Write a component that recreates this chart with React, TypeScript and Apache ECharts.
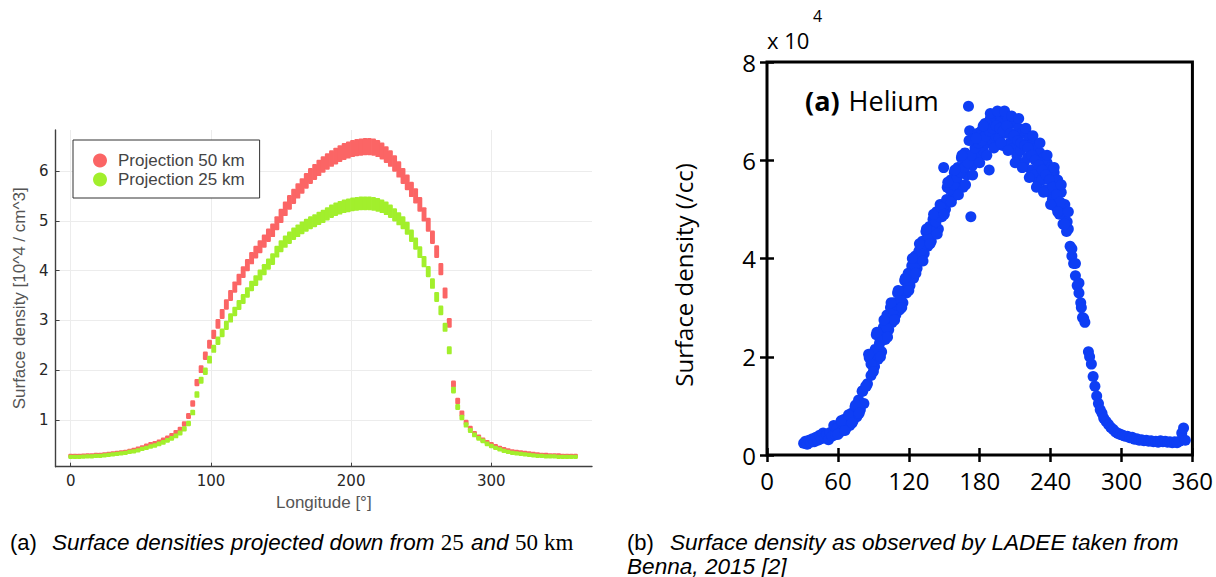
import React, { useEffect, useRef } from 'react';
import * as echarts from 'echarts';

// ---------- Left panel: projected surface densities (10^4 / cm^3) ----------
const LON = [
  0, 3, 6, 9, 12, 15, 18, 21, 24, 27,
  30, 33, 36, 39, 42, 45, 48, 51, 54, 57,
  60, 63, 66, 69, 72, 75, 78, 81, 84, 87,
  90, 93, 96, 99, 102, 105, 108, 111, 114, 117,
  120, 123, 126, 129, 132, 135, 138, 141, 144, 147,
  150, 153, 156, 159, 162, 165, 168, 171, 174, 177,
  180, 183, 186, 189, 192, 195, 198, 201, 204, 207,
  210, 213, 216, 219, 222, 225, 228, 231, 234, 237,
  240, 243, 246, 249, 252, 255, 258, 261, 264, 267,
  270, 273, 276, 279, 282, 285, 288, 291, 294, 297,
  300, 303, 306, 309, 312, 315, 318, 321, 324, 327,
  330, 333, 336, 339, 342, 345, 348, 351, 354, 357,
  360,
];

const RED_MID = [
  0.28, 0.28, 0.28, 0.285, 0.29, 0.29, 0.3, 0.3, 0.31, 0.32,
  0.33, 0.34, 0.35, 0.36, 0.38, 0.4, 0.42, 0.45, 0.48, 0.51,
  0.53, 0.56, 0.6, 0.64, 0.69, 0.75, 0.81, 0.92, 1.08, 1.33,
  1.75, 2.02, 2.29, 2.52, 2.72, 2.93, 3.13, 3.32, 3.5, 3.67,
  3.82, 3.97, 4.11, 4.25, 4.37, 4.48, 4.59, 4.71, 4.81, 4.95,
  5.1, 5.24, 5.37, 5.49, 5.6, 5.7, 5.8, 5.9, 5.98, 6.06,
  6.13, 6.19, 6.25, 6.3, 6.35, 6.39, 6.42, 6.45, 6.47, 6.48,
  6.49, 6.49, 6.48, 6.45, 6.4, 6.33, 6.25, 6.15, 6.03, 5.9,
  5.77, 5.63, 5.5, 5.33, 5.13, 4.92, 4.67, 4.38, 4.03, 3.55,
  2.95, 1.72, 1.38, 1.13, 0.95, 0.83, 0.73, 0.66, 0.6, 0.55,
  0.51, 0.47, 0.44, 0.41, 0.39, 0.37, 0.36, 0.35, 0.34, 0.33,
  0.32, 0.31, 0.3, 0.3, 0.29, 0.29, 0.29, 0.28, 0.28, 0.28,
  0.28,
];

const RED_HALF = [
  0.006, 0.006, 0.006, 0.006, 0.006, 0.006, 0.006, 0.007, 0.007, 0.007,
  0.007, 0.007, 0.008, 0.008, 0.008, 0.008, 0.009, 0.009, 0.01, 0.01,
  0.011, 0.012, 0.012, 0.013, 0.014, 0.015, 0.017, 0.019, 0.022, 0.028,
  0.036, 0.042, 0.048, 0.053, 0.057, 0.061, 0.065, 0.069, 0.073, 0.077,
  0.08, 0.083, 0.086, 0.089, 0.091, 0.094, 0.096, 0.099, 0.101, 0.104,
  0.107, 0.11, 0.113, 0.115, 0.118, 0.12, 0.122, 0.124, 0.126, 0.127,
  0.129, 0.13, 0.131, 0.132, 0.133, 0.134, 0.135, 0.135, 0.136, 0.136,
  0.136, 0.136, 0.136, 0.135, 0.134, 0.133, 0.131, 0.129, 0.127, 0.124,
  0.121, 0.118, 0.115, 0.112, 0.108, 0.103, 0.098, 0.092, 0.085, 0.074,
  0.062, 0.036, 0.029, 0.024, 0.02, 0.017, 0.015, 0.014, 0.013, 0.012,
  0.011, 0.01, 0.009, 0.009, 0.008, 0.008, 0.008, 0.007, 0.007, 0.007,
  0.007, 0.007, 0.006, 0.006, 0.006, 0.006, 0.006, 0.006, 0.006, 0.006,
  0.006,
];

const GREEN_MID = [
  0.26, 0.26, 0.26, 0.265, 0.27, 0.27, 0.28, 0.28, 0.29, 0.3,
  0.31, 0.32, 0.33, 0.34, 0.36, 0.37, 0.39, 0.42, 0.44, 0.47,
  0.49, 0.52, 0.55, 0.59, 0.63, 0.68, 0.74, 0.82, 0.93, 1.15,
  1.51, 1.8, 1.98, 2.21, 2.43, 2.59, 2.75, 2.9, 3.05, 3.18,
  3.31, 3.43, 3.56, 3.69, 3.8, 3.91, 4.02, 4.13, 4.23, 4.38,
  4.49, 4.58, 4.66, 4.74, 4.8, 4.86, 4.91, 4.96, 5.0, 5.05,
  5.09, 5.14, 5.19, 5.23, 5.26, 5.29, 5.31, 5.33, 5.34, 5.35,
  5.35, 5.35, 5.34, 5.32, 5.29, 5.25, 5.19, 5.12, 5.04, 4.96,
  4.85, 4.7, 4.54, 4.37, 4.18, 3.98, 3.74, 3.47, 3.2, 2.86,
  2.4, 1.6, 1.26, 1.05, 0.9, 0.79, 0.7, 0.63, 0.58, 0.52,
  0.48, 0.44, 0.41, 0.38, 0.36, 0.34, 0.33, 0.32, 0.31, 0.3,
  0.29, 0.28, 0.28, 0.27, 0.27, 0.27, 0.26, 0.26, 0.26, 0.26,
  0.26,
];

const GREEN_HALF = [
  0.005, 0.005, 0.005, 0.005, 0.005, 0.005, 0.005, 0.005, 0.006, 0.006,
  0.006, 0.006, 0.006, 0.006, 0.007, 0.007, 0.007, 0.008, 0.008, 0.009,
  0.009, 0.01, 0.01, 0.011, 0.012, 0.013, 0.014, 0.016, 0.018, 0.021,
  0.029, 0.034, 0.038, 0.042, 0.046, 0.049, 0.052, 0.055, 0.058, 0.06,
  0.063, 0.065, 0.068, 0.07, 0.072, 0.074, 0.076, 0.078, 0.08, 0.083,
  0.085, 0.087, 0.089, 0.09, 0.091, 0.092, 0.093, 0.094, 0.095, 0.096,
  0.097, 0.098, 0.099, 0.099, 0.1, 0.1, 0.101, 0.101, 0.101, 0.102,
  0.102, 0.102, 0.101, 0.101, 0.1, 0.1, 0.099, 0.097, 0.096, 0.094,
  0.092, 0.089, 0.086, 0.083, 0.079, 0.076, 0.071, 0.066, 0.061, 0.054,
  0.046, 0.03, 0.024, 0.02, 0.017, 0.015, 0.013, 0.012, 0.011, 0.01,
  0.009, 0.008, 0.008, 0.007, 0.007, 0.006, 0.006, 0.006, 0.006, 0.006,
  0.006, 0.005, 0.005, 0.005, 0.005, 0.005, 0.005, 0.005, 0.005, 0.005,
  0.005,
];

const LEFT_SERIES = ['Projection 50 km', 'Projection 25 km'];

// ---------- Right panel: LADEE helium observations (x 10^4 /cc) ----------
const BLUE_OUTER: [number, number][] = [
  [31, 0.24], [32.5, 0.28], [34, 0.22], [35.5, 0.3], [37, 0.26], [38.5, 0.33],
  [40, 0.27], [41.5, 0.36], [43, 0.3], [44.5, 0.4], [46, 0.33], [47.5, 0.45],
  [49, 0.35], [50.5, 0.42], [52, 0.31], [53.5, 0.46], [55, 0.38], [56.5, 0.6],
  [58, 0.41], [59.5, 0.55], [61, 0.45], [62.5, 0.68], [64, 0.5], [65.5, 0.73],
  [67, 0.55], [68.5, 0.66], [70, 0.6], [71.5, 0.85], [73, 0.7], [74.5, 0.98],
  [76, 0.78], [77.5, 1.12], [79, 0.92], [80.5, 1.3], [82, 1.05], [83.5, 1.4],
  [85, 1.45], [86.5, 1.98], [88, 1.62], [89.5, 2.02], [91, 1.8], [92.5, 2.45],
  [94, 1.95], [95.5, 2.3], [97, 2.1], [98.5, 2.6], [100, 2.35], [101.5, 2.85],
  [103, 2.55], [104.5, 3.0], [106, 2.7], [107.5, 3.1], [109, 2.85], [110.5, 3.3],
  [112, 2.95], [113.5, 3.25], [115, 3.1], [116.5, 3.55], [118, 3.3], [119.5, 3.7],
  [121, 3.45], [122.5, 3.85], [124, 3.6], [125.5, 4.05], [127, 3.8], [128.5, 4.15],
  [130, 3.95], [131.5, 4.35], [133, 4.1], [134.5, 4.55], [136, 4.25], [137.5, 4.65],
  [139, 4.35], [140.5, 4.8], [142, 4.5], [143.5, 4.95], [145, 4.6], [146.5, 5.1],
  [148, 4.85], [149.5, 5.85], [151, 5.0], [152.5, 5.45], [154, 5.15], [155.5, 5.6],
  [157, 5.25], [158.5, 5.75], [160, 5.4], [161.5, 5.85], [163, 5.5], [164.5, 6.05],
  [166, 5.45], [167.5, 6.15], [169, 5.7], [170.5, 7.1], [171.5, 6.6], [172.5, 4.85],
  [174, 5.9], [175.5, 6.45], [177, 6.05], [178.5, 6.55], [180, 6.1], [181.5, 6.6],
  [183, 6.2], [184.5, 6.75], [186, 6.35], [188, 5.8], [189, 6.85], [190.5, 6.4],
  [192, 6.9], [193.5, 6.5], [195, 6.95], [196.5, 6.45], [198, 6.8], [199.5, 6.3],
  [201, 6.95], [202.5, 6.55], [204, 6.85], [205.5, 6.35], [207, 6.75], [208.5, 6.25],
  [210, 6.8], [211.5, 6.1], [213, 6.65], [214.5, 6.2], [216, 6.55], [217.5, 5.95],
  [219, 6.6], [220.5, 6.05], [222, 6.45], [223.5, 5.8], [225, 6.35], [226.5, 5.7],
  [228, 6.25], [229.5, 5.55], [231, 6.15], [232.5, 5.6], [234, 6.05], [235.5, 5.4],
  [237, 5.95], [238.5, 5.35], [240, 5.85], [241.5, 5.2], [243, 5.75], [244.5, 5.05],
  [246, 5.6], [247.5, 4.9], [249, 5.35], [250.5, 4.7], [252, 5.1], [253.5, 4.55],
  [255, 4.6], [256.5, 4.25], [258, 4.05], [259.5, 3.9], [261, 3.65], [262.5, 3.45],
  [264, 3.3], [265.5, 3.1], [267, 2.8], [268, 2.78], [269, 2.7], [272, 2.1],
  [273, 2.0], [274.5, 1.85], [276, 1.6], [277.5, 1.4], [279, 1.2], [280.5, 1.05],
  [282, 0.92], [283.5, 0.85], [285, 0.75], [287, 0.68], [289, 0.62], [291, 0.56],
  [293, 0.52], [295, 0.47], [297, 0.44], [299, 0.42], [301, 0.4], [303, 0.38],
  [305, 0.38], [307, 0.35], [309, 0.36], [311, 0.32], [313, 0.33], [315, 0.3],
  [317, 0.31], [319, 0.29], [321, 0.3], [323, 0.28], [325, 0.29], [327, 0.27],
  [329, 0.28], [331, 0.26], [333, 0.29], [335, 0.27], [337, 0.28], [339, 0.26],
  [341, 0.27], [343, 0.25], [345, 0.27], [347, 0.25], [349, 0.28], [351, 0.45],
  [352.5, 0.55], [354, 0.3],
];

const BLUE_INNER: [number, number][] = [
  [88, 1.85], [91.5, 2.15], [95, 2.25], [98, 2.4], [101, 2.6], [104, 2.78],
  [107, 2.95], [110, 3.05], [113, 3.15], [116, 3.35], [119, 3.5], [122, 3.7],
  [125, 3.85], [128, 4.0], [131, 4.15], [134, 4.3], [137, 4.45], [140, 4.6],
  [143, 4.75], [146, 4.85], [149, 5.05], [152, 5.2], [155, 5.4], [158, 5.5],
  [161, 5.65], [164, 5.75], [167, 5.85], [170, 5.95], [173, 6.1], [176, 6.25],
  [179, 6.35], [182, 6.4], [185, 6.5], [188, 6.6], [191, 6.65], [194, 6.7],
  [197, 6.65], [200, 6.6], [203, 6.7], [206, 6.55], [209, 6.5], [212, 6.4],
  [215, 6.35], [218, 6.3], [221, 6.25], [224, 6.1], [227, 6.0], [230, 5.9],
  [233, 5.8], [236, 5.7], [239, 5.6], [242, 5.45], [245, 5.3], [248, 5.15],
  [251, 4.9], [254, 4.75],
];

const BLUE_EDGE: [number, number][] = [
  [60, 0.42], [63, 0.7], [66, 0.5], [69, 0.82], [72, 0.65], [75, 1.02],
  [78, 0.85], [81, 1.3], [84, 1.4], [86, 2.05], [90, 1.7], [93, 2.5],
  [96, 2.0], [99, 2.75], [102, 2.4], [105, 3.1], [108, 2.75], [111, 3.35],
  [114, 3.0], [117, 3.6], [120, 3.35], [123, 4.0], [126, 3.7], [129, 4.3],
  [132, 3.95], [135, 4.6], [138, 4.3], [141, 4.9], [144, 4.5], [147, 5.05],
  [150, 4.9], [153, 5.55], [156, 5.15], [159, 5.8], [162, 5.3], [165, 6.1],
  [168, 5.5], [171, 6.4], [174, 5.7], [177, 6.45], [180, 5.95], [183, 6.7],
  [186, 6.1], [189, 6.95], [192, 6.25], [195, 7.0], [198, 6.35], [201, 7.0],
  [204, 6.2], [207, 6.9], [210, 5.95], [213, 6.85], [216, 5.85], [219, 6.65],
  [222, 5.65], [225, 6.5], [228, 5.45], [231, 6.35], [234, 5.35], [237, 6.1],
  [240, 5.1], [243, 5.85], [246, 4.95], [249, 5.5], [252, 4.7], [255, 4.95],
  [258, 4.2], [261, 3.9], [264, 3.5], [266, 3.0],
];

const RED = '#fb6565';
const GREEN = '#a2ef2c';
const BLUE = '#0e3ef4';

function bandRenderer(color: string) {
  return (_params: any, api: any) => {
    const lon = api.value(0);
    const lo = api.value(1);
    const hi = api.value(2);
    const pHi = api.coord([lon, hi]);
    const pLo = api.coord([lon, lo]);
    const w = 4.9;
    const pad = 1.8;
    return {
      type: 'rect',
      shape: {
        x: pHi[0] - w / 2,
        y: pHi[1] - pad,
        width: w,
        height: pLo[1] - pHi[1] + 2 * pad,
        r: 1.2,
      },
      style: { fill: color },
    };
  };
}

function bandData(mid: number[], half: number[]) {
  return LON.map((l, i) => [l, mid[i] - half[i], mid[i] + half[i]]);
}

export default function App() {
  const ref = useRef<HTMLDivElement>(null);

  useEffect(() => {
    if (!ref.current) return;
    const chart = echarts.init(ref.current, null, { renderer: 'svg' });

    const leftTickFont = { fontFamily: 'DejaVu Sans', fontSize: 15, color: '#262626' };
    const guideFont = { fontFamily: 'Liberation Sans', fontSize: 17, color: '#555555' };
    const rightFont = { fontFamily: 'Open Sans', fontSize: 24, color: '#000000' };

    const option: any = {
      animation: false,
      backgroundColor: '#ffffff',
      grid: [
        { left: 55.6, top: 130, width: 536.4, height: 336.7, show: false },
        {
          left: 767, top: 62, width: 427, height: 393,
          show: true, borderColor: '#000000', borderWidth: 3, backgroundColor: 'transparent',
        },
      ],
      legend: {
        data: [
          { name: LEFT_SERIES[0], icon: 'circle' },
          { name: LEFT_SERIES[1], icon: 'circle' },
        ],
        orient: 'vertical',
        left: 73,
        top: 140,
        padding: [12, 15, 10, 20],
        itemGap: 2,
        itemWidth: 26,
        itemHeight: 14,
        borderColor: '#333333',
        borderWidth: 1,
        backgroundColor: '#ffffff',
        selectedMode: false,
        textStyle: { fontFamily: 'Liberation Sans', fontSize: 17, color: '#444444', lineHeight: 17 },
      },
      xAxis: [
        {
          gridIndex: 0,
          type: 'value',
          min: -10.8,
          max: 371.8,
          axisLine: { show: true, onZero: false, lineStyle: { color: '#404040', width: 1.4 } },
          axisTick: { show: true, inside: true, length: 4, lineStyle: { color: '#404040' } },
          splitLine: { show: true, showMinLine: false, showMaxLine: false, lineStyle: { color: '#ececec', width: 1 } },
          axisLabel: {
            ...leftTickFont,
            margin: 7,
            showMinLabel: false,
            showMaxLabel: false,
            formatter: (v: number) => (Number.isInteger(v) && v % 100 === 0 ? String(v) : ''),
          },
          name: 'Longitude [°]',
          nameLocation: 'middle',
          nameGap: 27,
          nameTextStyle: guideFont,
        },
        {
          gridIndex: 1,
          type: 'value',
          min: 0,
          max: 360,
          interval: 60,
          axisLine: { show: false },
          axisTick: { show: true, inside: true, length: 7, lineStyle: { color: '#000', width: 2.5 } },
          splitLine: { show: false },
          axisLabel: { ...rightFont, margin: 13 },
        },
        {
          gridIndex: 1,
          type: 'value',
          position: 'top',
          min: 0,
          max: 360,
          interval: 60,
          axisLine: { show: false },
          axisTick: { show: true, inside: true, length: 7, lineStyle: { color: '#000', width: 2.5 } },
          splitLine: { show: false },
          axisLabel: { show: false },
        },
      ],
      yAxis: [
        {
          gridIndex: 0,
          type: 'value',
          min: 0.062,
          max: 6.823,
          axisLine: { show: true, onZero: false, lineStyle: { color: '#404040', width: 1.4 } },
          axisTick: { show: true, inside: true, length: 4, lineStyle: { color: '#404040' } },
          splitLine: { show: true, showMinLine: false, showMaxLine: false, lineStyle: { color: '#ececec', width: 1 } },
          axisLabel: {
            ...leftTickFont,
            margin: 7,
            showMinLabel: false,
            showMaxLabel: false,
            formatter: (v: number) => (Number.isInteger(v) ? String(v) : ''),
          },
          name: 'Surface density [10^4 / cm^3]',
          nameLocation: 'middle',
          nameGap: 28,
          nameTextStyle: guideFont,
        },
        {
          gridIndex: 1,
          type: 'value',
          min: 0,
          max: 8,
          interval: 2,
          axisLine: { show: false },
          axisTick: { show: true, inside: true, length: 7, lineStyle: { color: '#000', width: 2.5 } },
          splitLine: { show: false },
          axisLabel: { ...rightFont, margin: 11 },
        },
        {
          gridIndex: 1,
          type: 'value',
          position: 'right',
          min: 0,
          max: 8,
          interval: 2,
          axisLine: { show: false },
          axisTick: { show: true, inside: true, length: 7, lineStyle: { color: '#000', width: 2.5 } },
          splitLine: { show: false },
          axisLabel: { show: false },
        },
      ],
      series: [
        {
          name: LEFT_SERIES[0],
          type: 'custom',
          xAxisIndex: 0,
          yAxisIndex: 0,
          itemStyle: { color: RED },
          renderItem: bandRenderer(RED),
          encode: { x: 0, y: [1, 2] },
          data: bandData(RED_MID, RED_HALF),
        },
        {
          name: LEFT_SERIES[1],
          type: 'custom',
          xAxisIndex: 0,
          yAxisIndex: 0,
          itemStyle: { color: GREEN },
          renderItem: bandRenderer(GREEN),
          encode: { x: 0, y: [1, 2] },
          data: bandData(GREEN_MID, GREEN_HALF),
        },
        {
          name: 'LADEE helium',
          type: 'scatter',
          xAxisIndex: 1,
          yAxisIndex: 1,
          symbol: 'circle',
          symbolSize: 11,
          itemStyle: { color: BLUE, opacity: 1 },
          data: [...BLUE_OUTER, ...BLUE_INNER, ...BLUE_EDGE],
        },
      ],
      graphic: [
        {
          type: 'text',
          x: 767,
          y: 40,
          style: { text: 'x 10', fontFamily: 'Open Sans', fontSize: 22, fill: '#000', verticalAlign: 'middle', align: 'left' },
        },
        {
          type: 'text',
          x: 813,
          y: 16,
          style: { text: '4', fontFamily: 'Open Sans', fontSize: 16, fill: '#000', verticalAlign: 'middle', align: 'left' },
        },
        {
          type: 'text',
          x: 683,
          y: 275,
          rotation: Math.PI / 2,
          style: {
            text: 'Surface density (/cc)',
            fontFamily: 'Open Sans',
            fontSize: 24,
            fill: '#000',
            verticalAlign: 'middle',
            align: 'center',
          },
        },
        {
          type: 'text',
          x: 805,
          y: 100,
          style: {
            text: '{b|(a)}{r|Helium}',
            verticalAlign: 'middle',
            align: 'left',
            rich: {
              b: { fontFamily: 'Open Sans', fontSize: 27, fontWeight: 'bold', fill: '#000', padding: [0, 9, 0, 0] },
              r: { fontFamily: 'Open Sans', fontSize: 27, fill: '#000' },
            },
          },
        },
        {
          type: 'text',
          x: 10,
          y: 542,
          style: {
            text: '{u|(a)}{i|Surface densities projected down from }{m|25}{i| and }{m|50}{k|km}',
            fill: '#000',
            verticalAlign: 'middle',
            align: 'left',
            rich: {
              u: { fontFamily: 'Liberation Sans', fontSize: 22, fill: '#000', padding: [0, 15, 0, 0] },
              i: { fontFamily: 'Liberation Sans', fontStyle: 'italic', fontSize: 22.5, fill: '#000' },
              m: { fontFamily: 'Liberation Serif', fontSize: 23, fill: '#000', padding: [0, 1, 0, 0] },
              k: { fontFamily: 'Liberation Serif', fontSize: 23, fill: '#000', padding: [0, 0, 0, 5] },
            },
          },
        },
        {
          type: 'text',
          x: 627,
          y: 542,
          style: {
            text: '{u|(b)}{i|Surface density as observed by LADEE taken from}',
            fill: '#000',
            verticalAlign: 'middle',
            align: 'left',
            rich: {
              u: { fontFamily: 'Liberation Sans', fontSize: 22, fill: '#000', padding: [0, 16, 0, 0] },
              i: { fontFamily: 'Liberation Sans', fontStyle: 'italic', fontSize: 22.6, fill: '#000' },
            },
          },
        },
        {
          type: 'text',
          x: 627,
          y: 566,
          style: {
            text: 'Benna, 2015 [2]',
            fontFamily: 'Liberation Sans',
            fontStyle: 'italic',
            fontSize: 22.6,
            fill: '#000',
            verticalAlign: 'middle',
            align: 'left',
          },
        },
      ],
    };

    chart.setOption(option);
    return () => chart.dispose();
  }, []);

  return (
    <div
      ref={ref}
      style={{ position: 'fixed', left: 0, top: 0, width: 1216, height: 577, background: '#ffffff' }}
    />
  );
}
